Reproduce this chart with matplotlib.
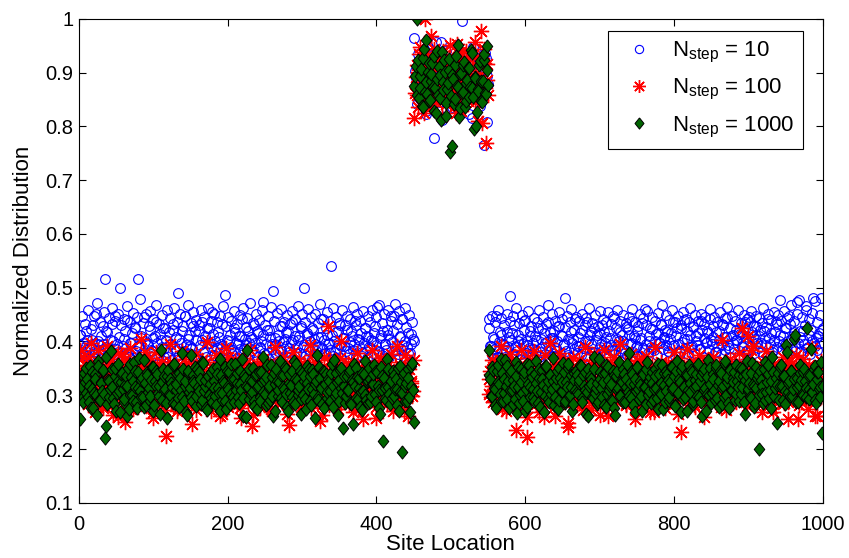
import numpy as np
import matplotlib
matplotlib.use("Agg")
import matplotlib.pyplot as plt

plt.rcParams["font.family"] = ["Liberation Sans", "DejaVu Sans"]
plt.rcParams["mathtext.fontset"] = "custom"
plt.rcParams["mathtext.rm"] = "Liberation Sans"
plt.rcParams["mathtext.it"] = "Liberation Sans"

# values in thousandths, one per site
# sites 1-450 (low), 451-550 (peak), 551-1000 (low); "odd" / "even" sites
n10_left_odd = [
    412, 385, 398, 371, 420, 402, 366, 389, 395, 430, 378, 452, 401, 384, 410,
    376, 395, 516, 420, 388, 365, 402, 433, 371, 448, 395, 380, 500, 362, 391,
    405, 387, 440, 372, 398, 415, 369, 427, 383, 516, 392, 410, 378, 446, 401,
    368, 393, 421, 384, 407, 375, 436, 398, 362, 414, 389, 425, 371, 402, 381,
    418, 395, 366, 432, 388, 409, 491, 374, 397, 420, 383, 447, 371, 405, 392,
    386, 428, 375, 403, 367, 419, 394, 437, 381, 410, 372, 398, 426, 389, 455,
    374, 401, 387, 417, 366, 395, 432, 380, 487, 402, 371, 413, 390, 384, 425,
    398, 369, 410, 386, 442, 377, 404, 393, 420, 375, 408, 385, 431, 397, 372,
    415, 388, 401, 474, 379, 396, 421, 368, 409, 386, 494, 393, 377, 412, 400,
    384, 428, 371, 405, 392, 418, 380, 399, 436, 373, 411, 389, 402, 378, 425,
    390, 500, 375, 413, 386, 400, 367, 421, 395, 382, 409, 374, 441, 388, 403,
    379, 412, 396, 384, 540, 373, 401, 418, 387, 395, 430, 369, 407, 392, 383,
    421, 376, 399, 410, 385, 438, 372, 404, 391, 416, 380, 397, 425, 370, 409,
    387, 402, 378, 415, 393, 465, 381, 406, 374, 420, 396, 385, 412, 371, 448,
    399, 383, 470, 392, 377, 410, 386, 441, 373, 400, 389, 416, 378, 395, 404,
]
n10_left_even = [
    412, 448, 376, 433, 391, 459, 368, 424, 402, 447, 383, 471, 395, 436, 362,
    428, 455, 389, 417, 444, 373, 462, 401, 438, 386, 452, 409, 430, 357, 441,
    419, 466, 381, 437, 398, 453, 372, 426, 445, 391, 479, 406, 434, 365, 451,
    397, 428, 456, 383, 441, 410, 468, 375, 433, 402, 449, 387, 426, 459, 371,
    443, 396, 421, 462, 384, 437, 405, 451, 378, 429, 447, 393, 468, 412, 435,
    388, 454, 419, 440, 367, 431, 458, 402, 445, 381, 426, 463, 397, 439, 414,
    451, 373, 436, 409, 448, 392, 466, 384, 429, 445, 401, 438, 376, 457, 418,
    432, 395, 449, 411, 462, 386, 427, 443, 398, 471, 405, 435, 380, 452, 419,
    440, 389, 458, 413, 431, 374, 447, 422, 465, 396, 438, 407, 453, 383, 428,
    461, 399, 436, 418, 449, 387, 433, 456, 402, 441, 378, 466, 411, 429, 452,
    394, 437, 415, 460, 383, 445, 426, 404, 451, 389, 434, 469, 408, 442, 377,
    425, 455, 398, 438, 412, 463, 381, 446, 420, 435, 392, 458, 406, 431, 448,
    387, 441, 419, 464, 396, 430, 452, 403, 439, 373, 457, 425, 410, 447, 389,
    436, 458, 401, 428, 445, 383, 467, 412, 434, 451, 396, 422, 459, 405, 438,
    419, 447, 385, 432, 456, 408, 441, 393, 462, 427, 378, 449, 414, 436, 401,
]
n10_peak_odd = [
    965, 890, 842, 912, 876, 931, 858, 905, 823, 948, 872, 915, 889, 779, 936,
    861, 902, 845, 957, 880, 918, 834, 893, 871, 940, 866, 908, 852, 925, 883,
    897, 841, 996, 874, 912, 859, 930, 868, 901, 815, 885, 944, 862, 918, 839,
    906, 877, 765, 928, 893,
]
n10_peak_even = [
    903, 872, 934, 851, 917, 886, 945, 829, 898, 864, 921, 877, 909, 843, 958,
    885, 869, 927, 812, 894, 873, 940, 856, 911, 880, 836, 919, 867, 952, 889,
    847, 905, 876, 932, 860, 895, 823, 914, 882, 948, 857, 901, 871, 926, 845,
    890, 866, 937, 808, 879,
]
n10_right_odd = [
    441, 392, 375, 408, 386, 447, 371, 399, 413, 380, 394, 372, 418, 389, 485,
    402, 376, 430, 391, 383, 412, 368, 405, 395, 438, 379, 401, 387, 420, 374,
    397, 410, 382, 426, 371, 404, 390, 415, 377, 399, 436, 385, 407, 373, 419,
    388, 401, 429, 376, 410, 393, 480, 382, 404, 371, 417, 398, 386, 442, 379,
    408, 392, 375, 421, 387, 400, 437, 369, 412, 395, 381, 426, 403, 374, 416,
    390, 431, 384, 398, 409, 372, 420, 393, 385, 444, 377, 405, 391, 418, 382,
    400, 386, 427, 374, 413, 396, 438, 380, 406, 389, 419, 371, 402, 435, 388,
    460, 395, 378, 411, 390, 423, 384, 401, 375, 416, 398, 430, 386, 407, 393,
    418, 380, 404, 391, 437, 373, 410, 396, 383, 425, 399, 440, 387, 405, 376,
    412, 389, 428, 379, 401, 394, 415, 386, 438, 372, 407, 398, 420, 384, 442,
    395, 408, 381, 417, 390, 402, 376, 433, 409, 385, 444, 393, 372, 411, 398,
    386, 421, 403, 375, 414, 392, 399, 437, 382, 408, 445, 390, 418, 379, 404,
    429, 388, 411, 397, 381, 420, 406, 373, 442, 395, 415, 384, 402, 436, 390,
    401, 477, 385, 410, 393, 426, 379, 448, 404, 389, 417, 383, 474, 398, 409,
    383, 420, 395, 466, 388, 412, 376, 401, 480, 392, 407, 385, 416, 398, 422,
]
n10_right_even = [
    426, 391, 448, 405, 437, 372, 459, 418, 443, 396, 431, 384, 452, 409, 438,
    415, 447, 389, 462, 401, 434, 377, 449, 421, 440, 393, 456, 410, 429, 386,
    444, 403, 437, 458, 381, 426, 445, 398, 433, 467, 392, 418, 451, 407, 439,
    382, 429, 455, 413, 441, 396, 427, 448, 375, 436, 460, 404, 422, 446, 391,
    438, 415, 452, 387, 430, 444, 401, 463, 419, 435, 380, 449, 412, 428, 457,
    396, 441, 418, 436, 389, 455, 407, 432, 447, 384, 426, 458, 401, 439, 413,
    450, 378, 434, 423, 445, 398, 461, 411, 437, 392, 429, 452, 406, 443, 385,
    431, 457, 400, 425, 446, 388, 438, 414, 453, 397, 433, 467, 408, 421, 449,
    383, 440, 416, 458, 394, 436, 425, 447, 379, 431, 455, 405, 442, 419, 437,
    462, 391, 427, 449, 410, 438, 386, 452, 421, 433, 446, 399, 416, 460, 403,
    428, 445, 381, 437, 420, 454, 396, 431, 443, 408, 465, 387, 425, 448, 412,
    439, 402, 458, 417, 434, 390, 450, 423, 441, 385, 436, 457, 409, 429, 447,
    398, 444, 421, 435, 462, 393, 427, 452, 406, 440, 381, 455, 418, 432, 449,
    413, 438, 396, 457, 425, 444, 401, 433, 468, 411, 439, 387, 451, 478, 420,
    446, 403, 431, 458, 389, 442, 421, 453, 397, 475, 436, 410, 449, 481, 425,
]

n100_left_odd = [
    385, 342, 310, 298, 356, 325, 371, 287, 334, 302, 318, 347, 279, 362, 331,
    295, 339, 308, 352, 281, 326, 368, 314, 292, 345, 303, 259, 333, 376, 317,
    300, 348, 286, 322, 363, 311, 274, 337, 296, 355, 319, 288, 341, 307, 380,
    327, 291, 350, 313, 268, 335, 302, 359, 284, 324, 346, 297, 315, 225, 338,
    306, 361, 289, 329, 312, 353, 277, 343, 318, 295, 367, 309, 334, 283, 320,
    349, 301, 326, 272, 340, 314, 357, 290, 331, 305, 362, 280, 323, 345, 298,
    316, 339, 285, 354, 307, 328, 265, 347, 321, 293, 372, 311, 336, 288, 325,
    303, 350, 319, 276, 342, 297, 331, 360, 287, 313, 345, 242, 322, 305, 357,
    294, 333, 310, 368, 282, 327, 348, 301, 318, 271, 339, 356, 292, 324, 309,
    342, 287, 315, 353, 299, 330, 244, 346, 313, 285, 361, 320, 304, 337, 278,
    326, 358, 293, 312, 340, 307, 375, 284, 332, 318, 296, 349, 311, 263, 336,
    302, 345, 428, 316, 289, 354, 323, 298, 341, 310, 369, 286, 327, 348, 305,
    319, 283, 338, 306, 362, 294, 327, 351, 275, 313, 342, 300, 335, 289, 357,
    311, 346, 297, 324, 258, 339, 315, 366, 288, 330, 305, 352, 321, 294, 377,
    334, 300, 318, 345, 286, 327, 352, 309, 271, 341, 316, 298, 360, 323, 307,
]
n100_left_even = [
    338, 296, 371, 312, 354, 283, 329, 397, 305, 347, 268, 322, 385, 301, 359,
    276, 341, 318, 392, 289, 335, 357, 264, 326, 303, 378, 348, 292, 315, 366,
    251, 333, 309, 387, 274, 345, 321, 299, 362, 286, 339, 405, 311, 352, 280,
    327, 369, 296, 343, 258, 318, 381, 305, 336, 290, 361, 325, 273, 349, 314,
    395, 287, 331, 356, 302, 270, 344, 319, 383, 295, 328, 360, 281, 338, 306,
    247, 354, 317, 376, 293, 340, 309, 365, 284, 326, 399, 301, 347, 270, 333,
    318, 374, 290, 345, 262, 329, 357, 305, 388, 279, 336, 316, 351, 297, 366,
    283, 321, 342, 257, 370, 312, 348, 294, 330, 385, 308, 263, 355, 325, 302,
    343, 278, 364, 316, 335, 291, 359, 322, 275, 348, 307, 390, 286, 332, 355,
    299, 371, 314, 338, 266, 352, 327, 296, 381, 310, 345, 283, 363, 320, 340,
    287, 356, 305, 329, 394, 276, 342, 318, 361, 295, 334, 253, 349, 313, 372,
    304, 337, 282, 366, 320, 347, 293, 358, 274, 331, 401, 308, 343, 289, 326,
    360, 297, 335, 269, 352, 315, 378, 291, 339, 323, 256, 364, 303, 346, 287,
    330, 384, 300, 355, 278, 341, 313, 369, 296, 327, 350, 284, 362, 309, 336,
    271, 345, 318, 392, 302, 356, 288, 333, 375, 314, 261, 348, 327, 299, 366,
]
n100_peak_odd = [
    815, 892, 858, 934, 871, 906, 847, 1000, 883, 920, 862, 897, 838, 945, 876,
    909, 853, 928, 889, 866, 917, 842, 895, 873, 951, 860, 904, 881, 826, 913,
    869, 938, 855, 890, 877, 922, 848, 900, 864, 931, 885, 957, 872, 811, 896,
    978, 859, 918, 770, 887,
]
n100_peak_even = [
    862, 915, 837, 948, 883, 901, 826, 937, 870, 892, 853, 968, 879, 912, 845,
    925, 866, 898, 819, 941, 876, 907, 851, 930, 888, 862, 915, 839, 954, 873,
    896, 828, 921, 867, 940, 882, 855, 910, 874, 933, 846, 899, 865, 926, 887,
    806, 944, 871, 917, 858,
]
n100_right_odd = [
    302, 345, 318, 287, 362, 329, 296, 351, 312, 274, 338, 305, 359, 290, 325,
    343, 281, 316, 235, 334, 300, 357, 321, 288, 346, 309, 222, 331, 295, 364,
    313, 339, 284, 322, 350, 298, 327, 260, 342, 307, 318, 355, 291, 336, 279,
    324, 302, 347, 315, 289, 361, 330, 296, 241, 338, 312, 353, 285, 321, 344,
    297, 334, 308, 358, 281, 326, 345, 303, 317, 272, 340, 294, 366, 311, 329,
    350, 287, 319, 337, 305, 262, 343, 314, 298, 356, 323, 291, 334, 309, 347,
    316, 340, 283, 327, 352, 301, 318, 345, 276, 331, 306, 363, 292, 325, 339,
    304, 348, 314, 290, 337, 321, 268, 354, 309, 330, 296, 342, 318, 284, 357,
    328, 299, 341, 312, 357, 286, 323, 347, 305, 232, 339, 315, 294, 351, 320,
    343, 307, 330, 282, 349, 316, 300, 361, 325, 293, 338, 311, 356, 289, 324,
    311, 352, 296, 334, 319, 345, 279, 327, 305, 362, 291, 340, 318, 349, 302,
    336, 288, 323, 354, 307, 342, 315, 297, 331, 410, 320, 385, 306, 346, 293,
    319, 348, 301, 337, 284, 325, 358, 312, 296, 343, 330, 268, 351, 314, 339,
    295, 331, 316, 349, 306, 322, 287, 344, 313, 360, 298, 335, 321, 255, 340,
    327, 304, 352, 291, 338, 317, 345, 300, 329, 262, 347, 310, 336, 294, 355,
]
n100_right_even = [
    331, 296, 365, 312, 348, 283, 357, 320, 391, 301, 339, 270, 353, 317, 376,
    289, 344, 308, 362, 276, 330, 385, 297, 351, 314, 259, 369, 325, 306, 342,
    382, 291, 337, 268, 355, 318, 300, 374, 284, 346, 322, 398, 309, 335, 262,
    357, 313, 378, 295, 341, 287, 363, 326, 249, 348, 304, 370, 319, 338, 281,
    366, 300, 345, 273, 389, 316, 333, 292, 359, 307, 376, 285, 344, 321, 264,
    350, 312, 384, 297, 336, 278, 361, 324, 303, 371, 289, 341, 316, 395, 298,
    327, 360, 282, 349, 311, 377, 293, 338, 256, 365, 320, 302, 352, 287, 334,
    373, 306, 344, 268, 356, 315, 390, 296, 331, 283, 362, 309, 347, 277, 325,
    358, 290, 339, 314, 381, 301, 346, 265, 369, 322, 295, 353, 310, 386, 286,
    337, 305, 363, 279, 350, 317, 375, 294, 342, 260, 328, 366, 308, 345, 291,
    372, 313, 333, 299, 358, 284, 403, 321, 347, 273, 339, 306, 368, 295, 330,
    289, 355, 318, 378, 302, 425, 311, 344, 280, 367, 324, 299, 391, 336, 314,
    351, 297, 340, 269, 362, 308, 383, 325, 293, 347, 276, 359, 316, 335, 288,
    343, 304, 371, 286, 329, 364, 255, 350, 312, 338, 297, 374, 320, 282, 345,
    308, 367, 293, 339, 274, 356, 318, 388, 301, 334, 262, 349, 327, 364, 296,
]

n1000_left_odd = [
    255, 318, 296, 342, 305, 331, 287, 354, 312, 276, 339, 300, 363, 291, 325,
    308, 347, 220, 242, 329, 296, 382, 315, 283, 351, 304, 327, 269, 340, 311,
    293, 336, 318, 274, 359, 301, 326, 345, 288, 314, 370, 297, 333, 279, 322,
    343, 306, 290, 328, 352, 281, 317, 339, 299, 266, 325, 348, 310, 286, 336,
    302, 330, 315, 357, 284, 321, 295, 342, 309, 378, 289, 327, 264, 345, 313,
    296, 338, 322, 280, 349, 307, 331, 292, 360, 318, 276, 335, 301, 344, 287,
    326, 299, 352, 314, 271, 337, 305, 323, 290, 346, 312, 283, 358, 297, 330,
    309, 341, 285, 320, 367, 294, 333, 260, 316, 349, 302, 327, 289, 338, 275,
    318, 297, 344, 306, 329, 282, 356, 313, 291, 334, 262, 320, 348, 299, 325,
    337, 288, 315, 352, 303, 271, 340, 319, 296, 363, 284, 328, 310, 345, 293,
    301, 335, 274, 322, 348, 289, 311, 339, 258, 327, 296, 353, 316, 284, 343,
    320, 295, 331, 307, 342, 278, 365, 304, 324, 290, 347, 313, 240, 336, 299,
    310, 344, 285, 328, 246, 317, 351, 293, 332, 306, 272, 339, 300, 325, 286,
    331, 298, 320, 357, 288, 343, 309, 266, 335, 215, 314, 292, 348, 303, 327,
    295, 337, 312, 281, 350, 306, 324, 195, 341, 317, 289, 332, 268, 354, 310,
]
n1000_left_even = [
    312, 337, 288, 324, 351, 297, 318, 276, 343, 305, 330, 264, 355, 291, 322,
    346, 303, 371, 283, 327, 312, 349, 295, 336, 270, 358, 308, 325, 341, 287,
    319, 262, 350, 301, 334, 289, 361, 316, 277, 344, 307, 329, 296, 366, 281,
    338, 314, 299, 352, 271, 327, 345, 305, 318, 384, 292, 336, 311, 257, 347,
    300, 323, 286, 358, 310, 339, 279, 332, 296, 349, 317, 268, 341, 306, 375,
    289, 327, 352, 298, 315, 343, 284, 361, 308, 329, 273, 336, 320, 294, 348,
    314, 281, 340, 305, 367, 291, 326, 353, 275, 318, 344, 302, 331, 287, 359,
    323, 297, 346, 310, 262, 337, 318, 385, 293, 329, 306, 351, 280, 339, 315,
    343, 290, 325, 371, 302, 334, 286, 317, 356, 298, 341, 270, 327, 309, 363,
    295, 338, 312, 349, 279, 323, 305, 345, 287, 331, 359, 300, 318, 266, 342,
    326, 293, 354, 311, 336, 282, 347, 303, 320, 375, 291, 332, 313, 345, 276,
    339, 306, 327, 289, 358, 317, 298, 342, 263, 329, 351, 304, 318, 286, 336,
    310, 347, 283, 325, 359, 295, 334, 314, 278, 342, 308, 363, 291, 327, 350,
    288, 321, 339, 302, 345, 317, 276, 352, 309, 333, 294, 368, 315, 283, 327,
    346, 299, 330, 312, 271, 355, 305, 338, 289, 322, 348, 296, 317, 360, 250,
]
n1000_peak_odd = [
    876, 912, 1000, 853, 894, 838, 927, 865, 961, 902, 847, 885, 918, 829, 871,
    940, 858, 896, 812, 883, 924, 844, 869, 906, 752, 763, 889, 851, 931, 874,
    817, 898, 862, 915, 836, 880, 909, 855, 943, 872, 796, 890, 827, 866, 921,
    848, 884, 935, 861, 950,
]
n1000_peak_even = [
    893, 858, 924, 871, 907, 836, 945, 882, 861, 918, 849, 897, 874, 932, 826,
    889, 911, 853, 938, 868, 902, 819, 881, 926, 857, 895, 842, 915, 876, 951,
    834, 899, 865, 920, 847, 887, 908, 873, 937, 855, 892, 801, 869, 914, 884,
    846, 923, 863, 905, 878,
]
n1000_right_odd = [
    385, 331, 298, 347, 312, 276, 356, 320, 289, 341, 304, 365, 293, 327, 310,
    346, 283, 318, 336, 267, 352, 301, 325, 290, 343, 311, 279, 357, 316, 334,
    297, 340, 322, 285, 349, 306, 331, 268, 355, 314, 293, 338, 302, 326, 281,
    319, 345, 292, 333, 308, 360, 286, 324, 350, 299, 316, 271, 341, 310, 337,
    302, 329, 354, 288, 317, 343, 306, 261, 335, 321, 295, 348, 313, 284, 367,
    331, 296, 325, 342, 278, 353, 309, 320, 289, 338, 264, 346, 314, 300, 327,
    287, 340, 315, 358, 298, 323, 345, 282, 331, 307, 352, 293, 319, 270, 339,
    316, 349, 301, 327, 285, 344, 311, 336, 294, 359, 305, 322, 275, 341, 308,
    339, 290, 324, 352, 313, 281, 346, 303, 330, 268, 355, 317, 296, 337, 309,
    322, 347, 284, 315, 340, 299, 358, 326, 288, 343, 310, 271, 334, 301, 350,
    305, 331, 292, 356, 319, 279, 342, 313, 297, 364, 325, 286, 348, 309, 333,
    344, 302, 327, 289, 351, 316, 335, 266, 340, 307, 323, 294, 360, 318, 285,
    314, 337, 200, 329, 303, 348, 291, 325, 356, 310, 277, 343, 298, 332, 319,
    291, 352, 318, 335, 283, 394, 306, 327, 345, 299, 330, 412, 316, 287, 341,
    328, 300, 349, 314, 425, 293, 337, 308, 321, 355, 286, 344, 311, 296, 230,
]
n1000_right_even = [
    337, 298, 352, 314, 281, 346, 325, 303, 367, 290, 331, 318, 355, 276, 342,
    309, 328, 293, 361, 316, 285, 349, 304, 336, 270, 358, 321, 297, 343, 311,
    289, 364, 307, 332, 279, 347, 319, 299, 354, 326, 287, 338, 312, 369, 296,
    333, 275, 351, 308, 324, 343, 290, 315, 359, 301, 337, 283, 328, 346, 306,
    322, 356, 294, 338, 310, 265, 349, 317, 331, 297, 371, 305, 323, 288, 344,
    313, 340, 281, 357, 303, 329, 318, 292, 346, 277, 335, 309, 362, 298, 325,
    349, 287, 331, 306, 378, 295, 340, 320, 268, 353, 311, 327, 299, 344, 316,
    284, 361, 307, 334, 322, 291, 348, 313, 274, 339, 302, 357, 319, 288, 345,
    328, 297, 352, 311, 336, 280, 363, 305, 324, 347, 293, 315, 340, 271, 356,
    306, 343, 289, 329, 317, 355, 296, 337, 262, 348, 314, 302, 366, 321, 285,
    339, 310, 351, 294, 327, 345, 283, 318, 359, 301, 334, 276, 347, 309, 325,
    292, 356, 315, 338, 303, 349, 287, 328, 364, 311, 297, 342, 320, 279, 352,
    333, 300, 345, 318, 286, 361, 306, 339, 294, 327, 372, 299, 313, 248, 341,
    318, 357, 291, 335, 307, 380, 323, 298, 346, 312, 405, 288, 333, 319, 356,
    302, 344, 327, 296, 338, 311, 386, 306, 349, 292, 331, 343, 315, 362, 318,
]

labels = [r"N$_{\mathrm{step}}$ = 10", r"N$_{\mathrm{step}}$ = 100",
          r"N$_{\mathrm{step}}$ = 1000"]
x_ticks = [0, 200, 400, 600, 800, 1000]
y_ticks = [0.1, 0.2, 0.3, 0.4, 0.5, 0.6, 0.7, 0.8, 0.9, 1.0]


def series(left_odd, left_even, peak_odd, peak_even, right_odd, right_even):
    parts = [(1, left_odd), (2, left_even), (451, peak_odd),
             (452, peak_even), (551, right_odd), (552, right_even)]
    x = np.concatenate([start + 2 * np.arange(len(v)) for start, v in parts])
    y = np.concatenate([np.array(v) for _, v in parts]) / 1000.0
    order = np.argsort(x, kind="stable")
    return x[order], y[order]


diamond = [(0, 1), (0.8, 0), (0, -1), (-0.8, 0), (0, 1)]

fig = plt.figure(figsize=(8.49, 5.58), dpi=100)
ax = fig.add_axes([0.093, 0.099, 0.876, 0.867])

x, y = series(n10_left_odd, n10_left_even, n10_peak_odd, n10_peak_even,
              n10_right_odd, n10_right_even)
ax.plot(x, y, ls="none", marker="o", mfc="none", mec="#0000ff", ms=7,
        mew=0.8, label=labels[0])
x, y = series(n100_left_odd, n100_left_even, n100_peak_odd, n100_peak_even,
              n100_right_odd, n100_right_even)
ax.plot(x, y, ls="none", marker=(8, 2, 0), color="#ff0000", mec="#ff0000",
        ms=11, mew=1.0, label=labels[1])
x, y = series(n1000_left_odd, n1000_left_even, n1000_peak_odd,
              n1000_peak_even, n1000_right_odd, n1000_right_even)
ax.plot(x, y, ls="none", marker=diamond, mfc="#006400", mec="black", ms=9.5,
        mew=0.7, label=labels[2])

ax.set_xlim(0, 1000)
ax.set_ylim(0.1, 1.0)
ax.set_xticks(x_ticks)
ax.set_yticks(y_ticks)
ax.set_yticklabels([f"{v:g}" for v in y_ticks])
ax.tick_params(direction="in", top=True, right=True, length=5, width=0.8,
               labelsize=14.5)
ax.tick_params(axis="x", pad=9)
ax.tick_params(axis="y", pad=4)
for s in ax.spines.values():
    s.set_linewidth(0.8)

ax.set_xlabel("Site Location", fontsize=16, labelpad=0)
ax.set_ylabel("Normalized Distribution", fontsize=16, labelpad=8)

leg = ax.legend(loc="upper right", bbox_to_anchor=(0.974, 0.975),
                borderaxespad=0, fontsize=16, fancybox=False, framealpha=1,
                edgecolor="black", handletextpad=0.5, labelspacing=0.55,
                borderpad=0.4, handlelength=2.0, numpoints=1, markerscale=0.85)
leg.get_frame().set_linewidth(0.8)

fig.savefig("out.png", dpi=100)
